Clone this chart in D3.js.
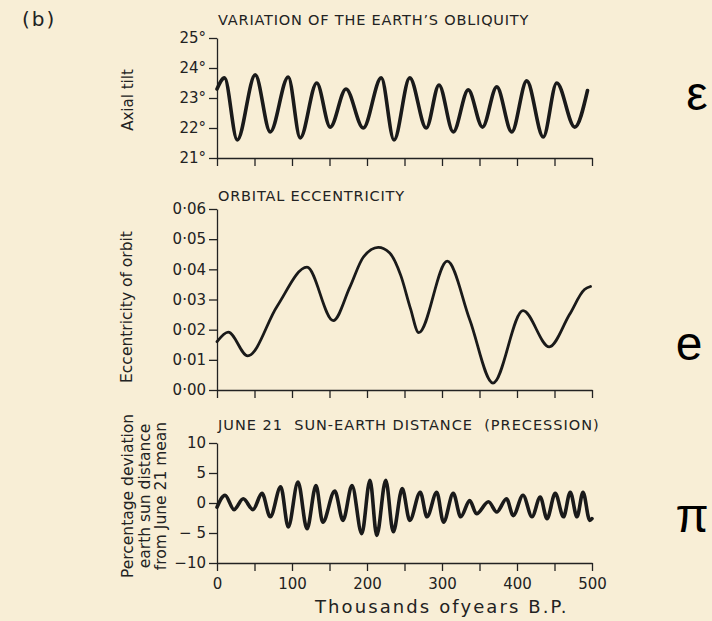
<!DOCTYPE html>
<html>
<head>
<meta charset="utf-8">
<script src="https://cdn.jsdelivr.net/npm/d3@7"></script>
<style>
body { margin: 0; background: #f8eed6; }
svg { display: block; }
text { font-family: "DejaVu Sans", sans-serif; fill: #222; }
.axis path, .axis line { stroke: #222; stroke-width: 1.3; }
.axis text { font-size: 15px; fill: #222; }
</style>
</head>
<body>
<svg></svg>
<script>
var svg_width = 712;
var svg_height = 621;

// shared time axis, thousands of years B.P.
var kyr_domain = [0, 500];
var kyr_ticks = [0, 50, 100, 150, 200, 250, 300, 350, 400, 450, 500];
var kyr_labels = [0, 100, 200, 300, 400, 500];

// obliquity (degrees) at peaks and troughs
var obl_kyr = [0, 10, 27, 51, 71, 95, 111, 133, 151, 172, 195, 219, 236, 257, 279, 296, 315, 335, 354, 373, 393, 413, 435, 453, 477, 494];
var obl_deg = [23.3, 23.67, 21.6, 23.77, 21.87, 23.7, 21.67, 23.5, 22.03, 23.3, 22.0, 23.67, 21.6, 23.67, 22.0, 23.43, 21.87, 23.27, 22.03, 23.37, 21.87, 23.57, 21.7, 23.5, 22.03, 23.25];
var obl_ticks = [21, 22, 23, 24, 25];

// eccentricity
var ecc_kyr = [0, 15, 41, 80, 120, 155, 177, 195, 215, 230, 245, 258, 269, 307, 337, 368, 408, 443, 470, 490, 498];
var ecc_val = [0.016, 0.0192, 0.0113, 0.0277, 0.0407, 0.023, 0.034, 0.044, 0.0473, 0.0455, 0.038, 0.027, 0.019, 0.0427, 0.0233, 0.0023, 0.0263, 0.0143, 0.025, 0.0333, 0.0343];
var ecc_ticks = [0, 0.01, 0.02, 0.03, 0.04, 0.05, 0.06];

// June 21 sun-earth distance, % deviation
var prec_kyr = [0, 10.7, 22.7, 35, 48, 60, 71, 85, 95, 108, 120, 132, 141, 157, 168, 180, 193, 204, 213, 225, 235, 247, 257, 271, 280, 293, 302, 315, 325, 337, 346, 362, 373, 386, 395, 408, 420, 431, 440, 451, 462, 471, 480, 488, 497, 500];
var prec_val = [-0.7, 1.3, -1.1, 0.7, -1.1, 1.6, -2.3, 2.7, -4.0, 3.5, -4.3, 2.9, -3.2, 2.0, -2.9, 2.9, -5.1, 3.8, -5.4, 3.8, -4.8, 2.4, -2.9, 1.8, -2.3, 1.8, -3.2, 1.6, -2.3, 0.4, -1.8, 0.2, -1.5, 0.7, -2.1, 1.3, -2.3, 1.0, -2.6, 1.6, -2.3, 1.8, -2.3, 1.8, -2.9, -2.6];
var prec_ticks = [-10, -5, 0, 5, 10];
var prec_tick_labels = ["\u221210", "\u2212 5", "0", "5", "10"];

var svg = d3.select('svg')
  .attr('width', svg_width)
  .attr('height', svg_height);

var xScale = d3.scaleLinear().domain(kyr_domain).range([217, 592]);

function zip(xs, ys) {
  return xs.map(function(x, i) { return [x, ys[i]]; });
}

function draw_panel(opts) {
  var yScale = d3.scaleLinear().domain(opts.domain).range([opts.bottom, opts.top]);

  svg.append('g')
    .attr('class', 'axis')
    .attr('transform', 'translate(0,' + opts.bottom + ')')
    .call(d3.axisBottom(xScale).tickValues(kyr_ticks).tickSize(8).tickSizeOuter(0)
      .tickFormat(function(d) { return opts.xlabels && kyr_labels.indexOf(d) >= 0 ? d : ''; }))
    .call(function(g) { g.selectAll('text').attr('dy', '1.0em'); });

  svg.append('g')
    .attr('class', 'axis')
    .attr('transform', 'translate(217,0)')
    .call(d3.axisLeft(yScale).tickValues(opts.ticks).tickSize(8).tickSizeOuter(0).tickPadding(3)
      .tickFormat(opts.format));

  var line = d3.line()
    .x(function(d) { return xScale(d[0]); })
    .y(function(d) { return yScale(d[1]); })
    .curve(d3.curveMonotoneX);

  svg.append('path')
    .datum(opts.data)
    .attr('d', line)
    .attr('fill', 'none')
    .attr('stroke', '#1a1a1a')
    .attr('stroke-width', opts.width)
    .attr('stroke-linejoin', 'round')
    .attr('stroke-linecap', 'round');

  svg.append('text')
    .attr('x', 218)
    .attr('y', opts.title_y)
    .style('font-size', '14.5px')
    .style('letter-spacing', opts.title_ls)
    .style('white-space', 'pre')
    .text(opts.title);
}

draw_panel({
  top: 38, bottom: 158, domain: [21, 25], ticks: obl_ticks,
  format: function(d) { return d + '\u00b0'; },
  data: zip(obl_kyr, obl_deg), width: 3.6,
  title: "VARIATION OF THE EARTH\u2019S OBLIQUITY", title_y: 25, title_ls: '0.8px'
});

draw_panel({
  top: 209, bottom: 390, domain: [0, 0.06], ticks: ecc_ticks,
  format: function(d) { return d3.format('.2f')(d).replace('.', '\u00b7'); },
  data: zip(ecc_kyr, ecc_val), width: 2.8,
  title: "ORBITAL ECCENTRICITY", title_y: 201, title_ls: '0.8px'
});

draw_panel({
  top: 443, bottom: 563, domain: [-10, 10], ticks: prec_ticks,
  format: function(d, i) { return prec_tick_labels[i]; },
  data: zip(prec_kyr, prec_val), width: 3.6, xlabels: true,
  title: "JUNE 21  SUN-EARTH DISTANCE  (PRECESSION)", title_y: 430, title_ls: '1px'
});

// y axis titles
svg.append('text')
  .attr('transform', 'translate(133,100) rotate(-90)')
  .attr('text-anchor', 'middle')
  .style('font-size', '15px')
  .text('Axial tilt');

svg.append('text')
  .attr('transform', 'translate(132,307) rotate(-90)')
  .attr('text-anchor', 'middle')
  .style('font-size', '15.5px')
  .text('Eccentricity of orbit');

var prec_title = ['Percentage deviation', 'earth sun distance', 'from June 21 mean'];
svg.selectAll('text.ptitle')
  .data(prec_title)
  .enter()
  .append('text')
  .attr('class', 'ptitle')
  .attr('transform', function(d, i) { return 'translate(' + (133 + i * 16.5) + ',496) rotate(-90)'; })
  .attr('text-anchor', 'middle')
  .style('font-size', '15.5px')
  .text(function(d) { return d; });

svg.append('text')
  .attr('x', 315)
  .attr('y', 613)
  .style('font-size', '18px')
  .style('letter-spacing', '2.1px')
  .text('Thousands ofyears B.P.');

svg.append('text')
  .attr('x', 22)
  .attr('y', 26)
  .style('font-size', '20px')
  .style('letter-spacing', '2px')
  .text('(b)');

// symbols at the right
var symbols = ['\u03b5', 'e', '\u03c0'];
var symbol_x = [697, 689, 692];
var symbol_y = [110, 360, 532];
svg.selectAll('text.sym')
  .data(symbols)
  .enter()
  .append('text')
  .attr('class', 'sym')
  .attr('x', function(d, i) { return symbol_x[i]; })
  .attr('y', function(d, i) { return symbol_y[i]; })
  .attr('text-anchor', 'middle')
  .style('font-family', '"Liberation Sans", Arial, sans-serif')
  .style('font-size', '48px')
  .style('fill', '#000')
  .text(function(d) { return d; });
</script>
</body>
</html>
